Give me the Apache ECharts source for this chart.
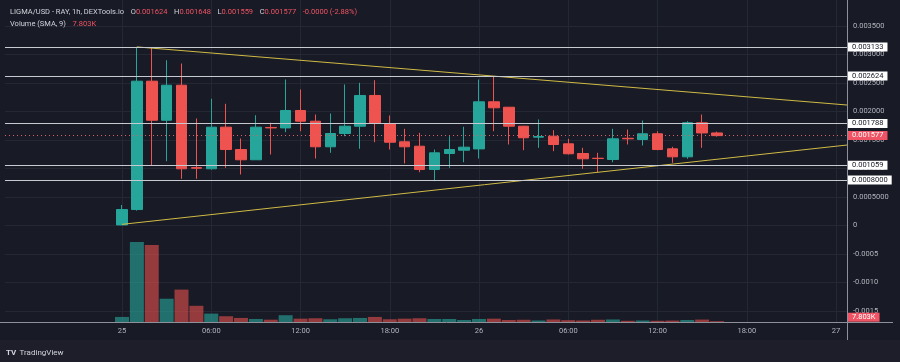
<!DOCTYPE html>
<html><head><meta charset="utf-8">
<style>html,body{margin:0;padding:0;background:#181a25;}#c{width:900px;height:362px;}</style>
<script src="https://cdn.jsdelivr.net/npm/echarts@6.0.0/dist/echarts.min.js"></script>
</head><body><div id="c"></div>
<script>
// ---- data (hour index from 25 00:00) ----
const hours = [0,1,2,3,4,5,6,7,8,9,10,11,12,13,14,15,16,17,18,19,20,21,22,23,24,25,26,27,28,29,30,31,32,33,34,35,36,37,38,39,40];
const opens  = [0.00001,0.00028,0.002532,0.001847,0.002461,0.001015,0.000995,0.001725,0.001333,0.001153,0.00172,0.001712,0.002018,0.00183,0.001381,0.001614,0.001742,0.002281,0.001789,0.001468,0.001391,0.000982,0.001263,0.001321,0.001344,0.00217,0.002075,0.001742,0.00155,0.001567,0.001433,0.001263,0.00118,0.001158,0.00153,0.001509,0.001609,0.001345,0.001205,0.001802,0.001624];
const closes = [0.00028,0.002532,0.001847,0.002461,0.000995,0.001005,0.001725,0.001333,0.001153,0.001725,0.001712,0.002018,0.00183,0.001381,0.001614,0.001742,0.002281,0.001789,0.001461,0.001381,0.000982,0.001275,0.001333,0.001374,0.00217,0.002065,0.001742,0.001539,0.001561,0.001421,0.001258,0.00117,0.001175,0.001521,0.001521,0.001609,0.001333,0.001205,0.001802,0.001624,0.001577];
const lows   = [0.000005,0.00026,0.001053,0.001128,0.000819,0.000819,0.00098,0.001012,0.000895,0.00115,0.001246,0.001637,0.001654,0.001175,0.001275,0.001567,0.001346,0.001461,0.001333,0.001088,0.000935,0.000777,0.001012,0.00111,0.001175,0.001654,0.001421,0.001321,0.001363,0.001304,0.001246,0.000995,0.000935,0.00111,0.001421,0.001404,0.001321,0.0011,0.00117,0.001363,0.001559];
const highs  = [0.00036,0.003133,0.003118,0.0029,0.002842,0.001877,0.002223,0.002135,0.001526,0.001935,0.001802,0.002561,0.002386,0.001947,0.001965,0.002474,0.002504,0.002549,0.00193,0.001696,0.001626,0.001333,0.001567,0.001732,0.002561,0.002624,0.002075,0.00175,0.00186,0.001672,0.001521,0.001363,0.001275,0.001696,0.001684,0.001842,0.001654,0.00138,0.00183,0.001947,0.001648];
const volumesK = [50,790,760,230,320,160,83,57,40,30,23,67,33,37,27,37,40,50,27,33,37,30,30,20,30,33,20,22,15,25,18,15,22,25,12,15,12,14,20,24,7.803];

const levels = [0.003133,0.002624,0.001788,0.001059,0.0008];
const levelLabels = ['0.003133','0.002624','0.001788','0.001059','0.0008000'];
const lastPrice = 0.001577;
const lastPriceLabel = '0.001577';
const lastVolume = 7.803;
const lastVolumeLabel = '7.803K';
const upperTrend = [[1,0.003133],[48.739,0.002114]];
const lowerTrend = [[0,0.00002],[48.739,0.001412]];

const xTickHours = [0,6,12,18,24,30,36,42,48];
const xTickLabels = ['25','06:00','12:00','18:00','26','06:00','12:00','18:00','27'];
const yTickValues = [0.0035,0.003,0.0025,0.002,0.0015,0.001,0.0005,0,-0.0005,-0.001,-0.0015];
const yTickLabels = ['0.003500','0.003000','0.002500','0.002000','0.001500','0.001000','0.0005000','0','-0.0005','-0.0010','-0.0015'];

const headerTitle = 'LIGMA/USD - RAY, 1h, DEXTools.io';
const headerChange = '-0.0000 (-2.88%)';
const volumeTitle = 'Volume (SMA, 9)';

// ---- chart ----
const X_MIN = -7.866, X_MAX = 48.739;
const Y_MAX = 225.5/57000, Y_MIN = -96.5/57000;
const UP = '#26a69a', DOWN = '#ef5350';
const FONT = 'Roboto, "Liberation Sans", sans-serif';
const AX = '#b2b5be';

function pick(vals, labels, v){
  const i = vals.findIndex(x => Math.abs(x - v) < 1e-9);
  return i < 0 ? '' : labels[i];
}
const n = hours.length - 1;
const candleData = hours.map((h,i)=>[h, opens[i], closes[i], lows[i], highs[i]]);
const volData = hours.map((h,i)=>({value:[h, volumesK[i]], itemStyle:{color: closes[i] >= opens[i] ? 'rgba(38,166,154,0.62)' : 'rgba(239,83,80,0.58)'}}));

const chart = echarts.init(document.getElementById('c'));
chart.setOption({
  animation: false,
  backgroundColor: '#181a25',
  textStyle: {fontFamily: FONT},
  grid: [
    {left: 5, top: 0, width: 842, height: 322},
    {left: 5, top: 241, width: 842, height: 81}
  ],
  xAxis: [
    {type:'value', gridIndex:0, min:X_MIN, max:X_MAX,
     axisLine:{show:false}, axisTick:{show:false, customValues:xTickHours},
     axisLabel:{customValues:xTickHours, formatter:v=>pick(xTickHours,xTickLabels,v), color:AX, fontSize:7.5, margin:5, fontFamily:FONT},
     splitLine:{show:true, lineStyle:{color:'#242734', width:1}}},
    {type:'value', gridIndex:1, min:X_MIN, max:X_MAX, show:false}
  ],
  yAxis: [
    {type:'value', gridIndex:0, position:'right', min:Y_MIN, max:Y_MAX,
     axisLine:{show:false}, axisTick:{show:false, customValues:yTickValues},
     axisLabel:{customValues:yTickValues, formatter:v=>pick(yTickValues,yTickLabels,v), color:AX, fontSize:7.5, margin:6, fontFamily:FONT},
     splitLine:{show:true, lineStyle:{color:'#242734', width:1}}},
    {type:'value', gridIndex:1, min:0, max:800, show:false}
  ],
  series: [
    {type:'bar', name:'volume', xAxisIndex:1, yAxisIndex:1, data:volData, barWidth:14, z:1,
     markLine:{silent:true, precision:6, symbol:['none','none'], lineStyle:{color:'rgba(0,0,0,0)', width:1},
       label:{show:true, position:'end', distance:1, formatter:lastVolumeLabel, backgroundColor:'#f05363', color:'#ffffff', fontSize:7.5, padding:[1,4,0,4], offset:[0,-4], fontFamily:FONT},
       data:[{yAxis:lastVolume}]}},
    {type:'candlestick', name:'price', xAxisIndex:0, yAxisIndex:0, data:candleData, barWidth:11, z:3,
     itemStyle:{color:UP, color0:DOWN, borderColor:UP, borderColor0:DOWN, borderWidth:1}},
    {type:'line', name:'upper', xAxisIndex:0, yAxisIndex:0, data:upperTrend, symbol:'none', z:4,
     lineStyle:{color:'#cfbb45', width:1},
     markLine:{silent:true, precision:6, symbol:['none','none'],
       lineStyle:{color:'#c8cad2', width:1, type:'solid'},
       label:{position:'end', distance:1, backgroundColor:'#ffffff', color:'#131722', fontSize:7.5, padding:[1,4,0,4], fontFamily:FONT},
       data: levels.map((v,i)=>({yAxis:v, label:{formatter:levelLabels[i]}}))}},
    {type:'line', name:'lower', xAxisIndex:0, yAxisIndex:0, data:lowerTrend, symbol:'none', z:4,
     lineStyle:{color:'#cfbb45', width:1},
     markLine:{silent:true, precision:6, symbol:['none','none'],
       lineStyle:{color:'#d9606b', width:1, type:[1,3]},
       label:{position:'end', distance:1, formatter:lastPriceLabel, backgroundColor:'#f05363', color:'#ffffff', fontSize:7.5, padding:[1,4,0,4], fontFamily:FONT},
       data:[{yAxis:lastPrice}]}}
  ],
  graphic: [
    {type:'rect', shape:{x:0, y:340, width:900, height:22}, style:{fill:'#1d1e29'}, z:0, silent:true},
    {type:'line', shape:{x1:0, y1:322.5, x2:893, y2:322.5}, style:{stroke:'#8e919a', lineWidth:1}, z:10, silent:true},
    {type:'line', shape:{x1:847.5, y1:0, x2:847.5, y2:340}, style:{stroke:'#8e919a', lineWidth:1}, z:10, silent:true},
    {type:'text', left:10, top:6, z:20, silent:true, style:{
      text:'{a|'+headerTitle+'}  {a|O}{b|'+opens[n].toFixed(6)+'}  {a|H}{b|'+highs[n].toFixed(6)+'}  {a|L}{b|'+lows[n].toFixed(6)+'}  {a|C}{b|'+closes[n].toFixed(6)+'}  {b|'+headerChange+'}',
      rich:{a:{fill:'#d1d4dc', fontSize:7.5, fontFamily:FONT}, b:{fill:'#f05363', fontSize:7.5, fontFamily:FONT}}}},
    {type:'text', left:10, top:18, z:20, silent:true, style:{
      text:'{a|'+volumeTitle+'}  {b|'+lastVolumeLabel+'}',
      rich:{a:{fill:'#d1d4dc', fontSize:7.5, fontFamily:FONT}, b:{fill:'#f05363', fontSize:7.5, fontFamily:FONT}}}},
    {type:'text', left:6, top:347, z:20, silent:true, style:{
      text:'{l|TV} {a|TradingView}',
      rich:{l:{fill:'#d1d4dc', fontSize:8, fontWeight:'bold', fontFamily:FONT}, a:{fill:'#d1d4dc', fontSize:8, fontFamily:FONT}}}}
  ]
});
</script>
</body></html>
